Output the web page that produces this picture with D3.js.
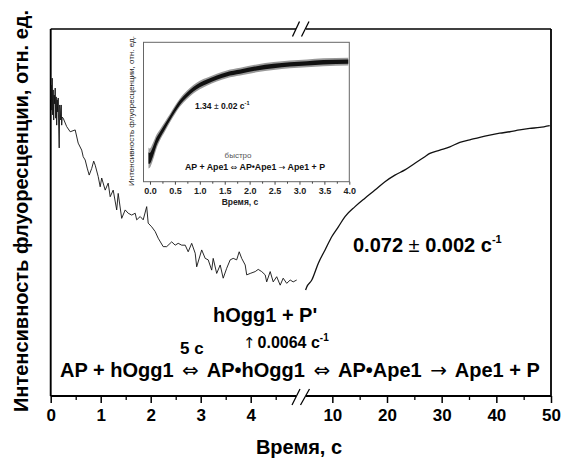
<!DOCTYPE html>
<html>
<head>
<meta charset="utf-8">
<script src="https://cdn.jsdelivr.net/npm/d3@7"></script>
<style>
  html, body { margin: 0; padding: 0; background: #fff; }
  svg { display: block; }
  text { font-family: "Liberation Sans", Arial, sans-serif; }
</style>
</head>
<body>
<div id="chart"></div>
<script>
// ---------------- DATA ----------------
// main chart, left segment (0–5 s), relative intensity
const leftTime = [0.00,0.01,0.02,0.03,0.04,0.05,0.06,0.07,0.08,0.09,0.10,0.11,0.12,0.13,0.14,0.15,0.16,0.17,0.18,0.19,0.20,0.21,0.22,0.23,
  0.25,0.32,0.39,0.49,0.55,0.62,0.65,0.69,0.73,0.77,0.82,0.86,0.89,0.95,0.99,1.02,1.09,1.15,1.19,1.25,1.32,1.35,1.42,1.49,1.55,1.62,1.69,1.72,1.79,1.85,1.92,1.95,2.02,2.09,2.15,2.25,
  2.32,2.42,2.49,2.55,2.62,2.69,2.75,2.82,2.89,2.92,3.02,3.09,3.15,3.22,3.25,3.32,3.39,3.45,3.52,3.59,3.65,3.72,3.77,3.82,3.89,3.92,3.99,4.09,4.15,4.22,4.29,4.32,4.39,4.45,4.52,4.59,4.65,4.72,4.79,4.85,4.92];
const leftValue = [8.07,8.47,7.79,8.66,7.66,8.34,7.52,8.20,7.96,8.39,7.57,8.15,7.38,8.07,7.74,8.12,7.33,6.76,7.93,7.79,7.52,7.93,7.38,7.60,
  7.57,7.34,7.20,7.25,6.89,6.70,6.52,6.43,6.21,6.02,6.20,6.40,6.29,5.98,5.70,5.94,5.61,5.80,5.43,5.61,5.07,5.52,4.84,5.07,4.98,4.93,4.98,4.80,4.89,4.80,5.16,4.71,4.61,4.48,4.30,4.07,
  4.07,4.20,4.11,4.16,4.11,4.11,3.93,4.16,3.89,3.52,3.98,3.75,3.71,3.43,3.75,3.34,3.57,3.21,3.48,3.71,3.75,3.71,3.93,3.75,3.57,3.30,3.34,3.39,3.45,3.39,3.30,3.11,3.39,3.11,3.25,3.02,3.21,3.07,3.16,3.11,3.16];

// main chart, right segment (5–50 s)
const rightTime  = [5.11,5.32,6.24,7.44,8.67,9.89,11.10,12.32,14.15,15.97,17.80,19.63,21.45,23.28,25.11,26.93,27.84,29.67,31.50,33.32,35.15,36.98,38.80,40.63,42.46,44.28,46.11,47.94,49.77];
const rightValue = [2.89,2.97,3.16,3.62,3.98,4.34,4.61,4.89,5.16,5.39,5.61,5.84,6.02,6.16,6.34,6.52,6.61,6.70,6.79,6.91,6.98,7.05,7.11,7.16,7.20,7.25,7.29,7.32,7.37];

// inset (0–4 s)
const insetTime   = [-0.03,-0.01,0.07,0.13,0.20,0.30,0.40,0.50,0.60,0.74,0.87,1.00,1.14,1.34,1.54,1.81,2.14,2.48,2.81,3.15,3.48,3.98];
const insetValue  = [1.70,1.68,2.27,2.87,3.35,3.95,4.55,5.14,5.67,6.22,6.63,6.94,7.17,7.46,7.70,7.89,8.13,8.30,8.42,8.49,8.57,8.61];
const insetSpread = [0.75,0.70,0.60,0.50,0.40,0.35,0.30,0.30,0.30,0.30,0.30,0.30,0.28,0.28,0.28,0.28,0.28,0.28,0.28,0.28,0.28,0.28];

// tick labels
const leftTicks = [0,1,2,3,4];
const leftMinor = [0.5,1.5,2.5,3.5,4.5];
const rightTicks = [10,20,30,40,50];
const rightMinor = [15,25,35,45];
const insetTicks = [0.0,0.5,1.0,1.5,2.0,2.5,3.0,3.5,4.0];
const insetMinor = [0.25,0.75,1.25,1.75,2.25,2.75,3.25,3.75];

// texts
const yTitle = "Интенсивность флуоресценции, отн. ед.";
const xTitle = "Время, с";

// ---------------- DRAWING ----------------
const W = 564, H = 459;
const svg = d3.select("#chart").append("svg").attr("width", W).attr("height", H);

const L = 50.7, R = 551, T = 29, B = 396;
const xl = d3.scaleLinear().domain([0, 5]).range([L, 300.7]);
const xr = d3.scaleLinear().domain([5, 50]).range([305, R]);
const y = d3.scaleLinear().domain([0, 10]).range([B, T]);

// frame
const frame = svg.append("g").attr("stroke", "#000").attr("fill", "none");
frame.append("line").attr("x1", L).attr("x2", L).attr("y1", T).attr("y2", B).attr("stroke-width", 1.9);
frame.append("line").attr("x1", R).attr("x2", R).attr("y1", T).attr("y2", B).attr("stroke-width", 1.8);
frame.append("line").attr("x1", L).attr("x2", 296).attr("y1", T).attr("y2", T).attr("stroke-width", 1.4);
frame.append("line").attr("x1", 306).attr("x2", R).attr("y1", T).attr("y2", T).attr("stroke-width", 1.4);
frame.append("line").attr("x1", L).attr("x2", 296).attr("y1", B).attr("y2", B).attr("stroke-width", 1.8);
frame.append("line").attr("x1", 306).attr("x2", R).attr("y1", B).attr("y2", B).attr("stroke-width", 1.8);
// break marks
[[292.5, 36.5, 299.5, 21.5], [301.5, 36.5, 309, 21.5], [292, 405, 300, 389], [300.5, 405, 309.5, 389]].forEach(s => {
  frame.append("line").attr("x1", s[0]).attr("y1", s[1]).attr("x2", s[2]).attr("y2", s[3]).attr("stroke-width", 1.3);
});

// axes
function drawAxis(scale, major, minor) {
  const gM = svg.append("g").attr("transform", `translate(0,${B})`)
    .call(d3.axisBottom(scale).tickValues(major).tickSize(7).tickPadding(6).tickFormat(d3.format("d")));
  gM.select(".domain").remove();
  gM.selectAll(".tick line").attr("stroke-width", 1.5);
  gM.selectAll(".tick text").attr("font-size", 17).attr("font-weight", "bold")
    .attr("font-family", "'Liberation Sans', Arial, sans-serif").attr("fill", "#000");
  const gm = svg.append("g").attr("transform", `translate(0,${B})`)
    .call(d3.axisBottom(scale).tickValues(minor).tickSize(4).tickFormat(""));
  gm.select(".domain").remove();
  gm.selectAll(".tick line").attr("stroke-width", 1.3);
}
drawAxis(xl, leftTicks, leftMinor);
drawAxis(xr, rightTicks, rightMinor);

// data lines
const leftData = leftTime.map((t, i) => [t, leftValue[i]]);
const rightData = rightTime.map((t, i) => [t, rightValue[i]]);
svg.append("path").datum(leftData)
  .attr("d", d3.line().x(d => xl(d[0])).y(d => y(d[1])))
  .attr("fill", "none").attr("stroke", "#111").attr("stroke-width", 0.9);
svg.append("path").datum(rightData)
  .attr("d", d3.line().curve(d3.curveMonotoneX).x(d => xr(d[0])).y(d => y(d[1])))
  .attr("fill", "none").attr("stroke", "#111").attr("stroke-width", 1.3);

// y title
svg.append("text").attr("transform", "translate(28,211) rotate(-90)")
  .attr("text-anchor", "middle").attr("font-size", 20).attr("font-weight", "bold").text(yTitle);
// x title
svg.append("text").attr("x", 299).attr("y", 454).attr("text-anchor", "middle")
  .attr("font-size", 20).attr("font-weight", "bold").text(xTitle);

// annotations
const k1 = svg.append("text").attr("x", 353).attr("y", 252).attr("font-size", 20).attr("font-weight", "bold");
k1.append("tspan").text("0.072 ");
k1.append("tspan").attr("font-weight", "normal").text("±");
k1.append("tspan").text(" 0.002 с");
k1.append("tspan").attr("font-size", 11).attr("dy", -9).text("-1");

svg.append("text").attr("x", 213).attr("y", 322).attr("font-size", 20).attr("font-weight", "bold").text("hOgg1 + P'");

const k2 = svg.append("text").attr("x", 243).attr("y", 348).attr("font-size", 16).attr("font-weight", "bold");
k2.append("tspan").attr("font-weight", "normal").attr("font-family", "'DejaVu Sans', sans-serif").attr("font-size", 15).text("↑");
k2.append("tspan").attr("dx", 2).text("0.0064 с");
k2.append("tspan").attr("font-size", 10).attr("dy", -7).text("-1");

svg.append("text").attr("x", 180).attr("y", 354).attr("font-size", 17).attr("font-weight", "bold").text("5 с");

const rx = svg.append("text").attr("x", 60).attr("y", 377).attr("font-size", 20).attr("font-weight", "bold");
const arrow = s => rx.append("tspan").attr("dx", 3).attr("font-weight", "normal").attr("font-family", "'DejaVu Sans', sans-serif").attr("font-size", 20).text(s);
rx.append("tspan").text("AP + hOgg1 ");
arrow("⇔");
rx.append("tspan").attr("dx", 3).text(" AP•hOgg1 ");
arrow("⇔");
rx.append("tspan").attr("dx", 3).text(" AP•Ape1 ");
arrow("→");
rx.append("tspan").attr("dx", 3).text(" Ape1 + P");

// ---------------- INSET ----------------
const iL = 143.5, iR = 349.3, iT = 42.3, iB = 181.7;
const ix = d3.scaleLinear().domain([-0.13, 4.0]).range([iL, iR]);
const iy = d3.scaleLinear().domain([0, 10]).range([iB, iT]);

svg.append("rect").attr("x", iL).attr("y", iT).attr("width", iR - iL).attr("height", iB - iT)
  .attr("fill", "#fff").attr("stroke", "#666").attr("stroke-width", 1);

const insetData = insetTime.map((t, i) => ({t, v: insetValue[i], s: insetSpread[i]}));
svg.append("path").datum(insetData)
  .attr("d", d3.area().curve(d3.curveMonotoneX).x(d => ix(d.t)).y0(d => iy(d.v - d.s)).y1(d => iy(d.v + d.s)))
  .attr("fill", "#999");
svg.append("path").datum(insetData)
  .attr("d", d3.area().curve(d3.curveMonotoneX).x(d => ix(d.t)).y0(d => iy(d.v - d.s * 0.55)).y1(d => iy(d.v + d.s * 0.55)))
  .attr("fill", "#111");

const ia = svg.append("g").attr("transform", `translate(0,${iB})`)
  .call(d3.axisBottom(ix).tickValues(insetTicks).tickSize(3).tickPadding(3).tickFormat(d3.format(".1f")));
ia.select(".domain").remove();
ia.selectAll(".tick line").attr("stroke", "#444");
ia.selectAll(".tick text").attr("font-size", 9).attr("font-weight", "bold")
  .attr("font-family", "'Liberation Sans', Arial, sans-serif").attr("fill", "#222");
const im = svg.append("g").attr("transform", `translate(0,${iB})`)
  .call(d3.axisBottom(ix).tickValues(insetMinor).tickSize(2).tickFormat(""));
im.select(".domain").remove();
im.selectAll(".tick line").attr("stroke", "#444");

svg.append("text").attr("x", 240).attr("y", 205).attr("text-anchor", "middle")
  .attr("font-size", 8.5).attr("font-weight", "bold").attr("fill", "#222").text(xTitle);
svg.append("text").attr("transform", "translate(134,111) rotate(-90)").attr("text-anchor", "middle")
  .attr("font-size", 8).attr("fill", "#222").text(yTitle);

const ik = svg.append("text").attr("x", 195).attr("y", 108.5).attr("font-size", 8.5).attr("font-weight", "bold").attr("fill", "#111");
ik.append("tspan").text("1.34 ");
ik.append("tspan").attr("font-weight", "normal").text("±");
ik.append("tspan").text(" 0.02 с");
ik.append("tspan").attr("font-size", 5.5).attr("dy", -4).text("-1");

svg.append("text").attr("x", 238).attr("y", 158).attr("text-anchor", "middle")
  .attr("font-size", 8).attr("fill", "#555").text("быстро");

const ir = svg.append("text").attr("x", 255).attr("y", 169.5).attr("text-anchor", "middle")
  .attr("font-size", 8.8).attr("font-weight", "bold").attr("fill", "#111");
const iarrow = s => ir.append("tspan").attr("font-weight", "normal").attr("font-family", "'DejaVu Sans', sans-serif").attr("font-size", 8).text(s);
ir.append("tspan").text("AP + Ape1 ");
iarrow("⇔");
ir.append("tspan").text(" AP•Ape1 ");
iarrow("→");
ir.append("tspan").text(" Ape1 + P");
</script>
</body>
</html>
